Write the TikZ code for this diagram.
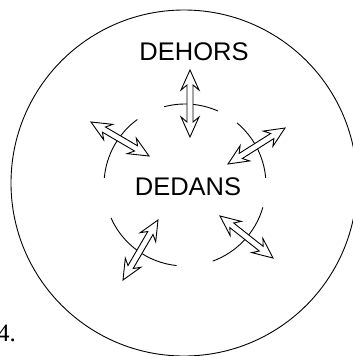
\documentclass[tikz,border=0pt]{standalone}
\usepackage{fontspec}
\setmainfont{Liberation Sans}
\newfontfamily\numfont{Liberation Serif}
\usetikzlibrary{calc}
\def\hl{20pt}
\def\hn{15pt}
\def\hw{9pt}
\def\sw{3pt}
\newcommand\dblarrow[2]{%
  \filldraw[arrowbody] (#1)
   -- ($(#1)!\hl!(#2)!\hw!90:(#2)$)
   -- ($(#1)!\hn!(#2)!\sw!90:(#2)$)
   -- ($(#2)!\hn!(#1)!\sw!-90:(#1)$)
   -- ($(#2)!\hl!(#1)!\hw!-90:(#1)$)
   -- (#2)
   -- ($(#2)!\hl!(#1)!\hw!90:(#1)$)
   -- ($(#2)!\hn!(#1)!\sw!90:(#1)$)
   -- ($(#1)!\hn!(#2)!\sw!-90:(#2)$)
   -- ($(#1)!\hl!(#2)!\hw!-90:(#2)$)
   -- cycle;}
\tikzset{
  arrowbody/.style={draw=black, fill=white, line width=0.9pt, line join=miter},
  ring/.style={draw=black, line width=0.9pt},
  label/.style={font=\fontsize{25.5}{28}\selectfont, inner sep=0pt}
}
\begin{document}
\begin{tikzpicture}[x=1pt,y=-1pt]
\useasboundingbox (0,0) rectangle (353,356);
% outer circle
\draw[ring] (184,183) circle[radius=173];
% inner arcs
\coordinate (c) at (185,185);
\foreach \a/\b in {66/105,126/175,5/50,204/264,290/344}{
  \draw[ring] ($(c)+(-\a:81)$) arc[start angle=-\a, end angle=-\b, radius=81];
}
% texts
\node[label] (dehors) at (194,52) {DEHORS};
\node[label] (dedans) at (188,186.5) {DEDANS};
\node[inner sep=0pt, anchor=base west, font=\numfont\fontsize{25}{28}\selectfont] (num) at (-3,341) {4.};
% arrow end points
\coordinate (v1) at (190,70);  \coordinate (v2) at (190,137);
\coordinate (a1) at (91,122);  \coordinate (a2) at (149,156);
\coordinate (b1) at (285,128); \coordinate (b2) at (228,164);
\coordinate (d1) at (158,220); \coordinate (d2) at (123,280);
\coordinate (e1) at (220,216); \coordinate (e2) at (273,258);
\dblarrow{v1}{v2}
\dblarrow{a1}{a2}
\dblarrow{b1}{b2}
\dblarrow{d1}{d2}
\dblarrow{e1}{e2}
\end{tikzpicture}
\end{document}
